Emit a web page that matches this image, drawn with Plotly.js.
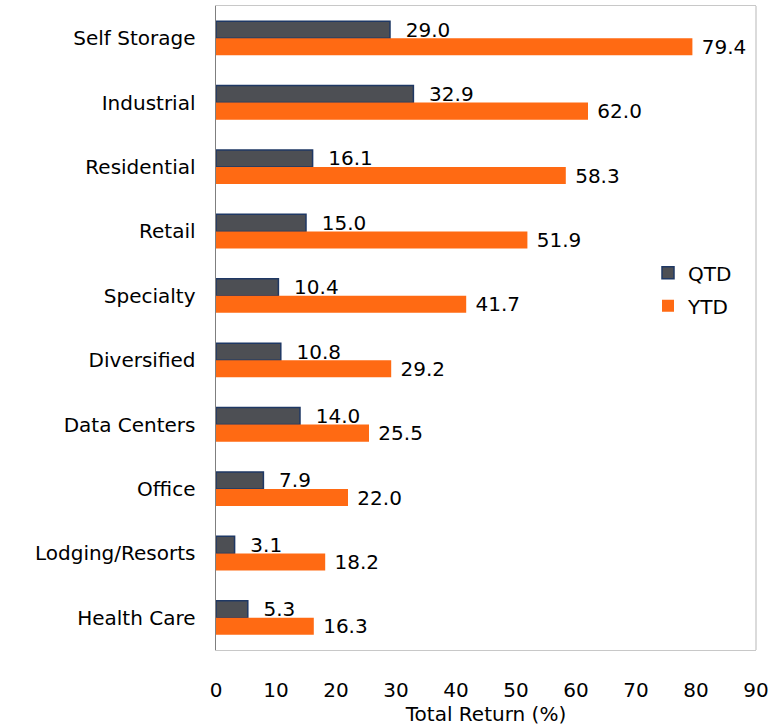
<!DOCTYPE html>
<html>
<head>
<meta charset="utf-8">
<script src="https://cdn.plot.ly/plotly-3.0.1.min.js"></script>
<style>html,body{margin:0;padding:0;background:#fff;}#chart{width:777px;height:727px;}</style>
</head>
<body>
<div id="chart"></div>
<script>
const categories = ["Self Storage","Industrial","Residential","Retail","Specialty","Diversified","Data Centers","Office","Lodging/Resorts","Health Care"];
const qtdValues = [29.0, 32.9, 16.1, 15.0, 10.4, 10.8, 14.0, 7.9, 3.1, 5.3];
const ytdValues = [79.4, 62.0, 58.3, 51.9, 41.7, 29.2, 25.5, 22.0, 18.2, 16.3];
const xTicks = [0,10,20,30,40,50,60,70,80,90];

const FONT = "DejaVu Sans, Verdana, sans-serif";
const FS = 20;

const traces = [
  {
    type: "bar", orientation: "h", name: "QTD", legendgroup: "a",
    y: categories, x: qtdValues,
    marker: {color: "#4d4f54", line: {color: "#1f3864", width: 1.5}},
    text: qtdValues.map(v => "  " + v.toFixed(1)),
    textposition: "outside", cliponaxis: false, constraintext: "none",
    textfont: {family: FONT, size: FS, color: "#000"},
    hoverinfo: "x+y"
  },
  {
    type: "bar", orientation: "h", name: "YTD", legendgroup: "b",
    y: categories, x: ytdValues,
    marker: {color: "#ff6a13", line: {width: 0}},
    text: ytdValues.map(v => " " + v.toFixed(1)),
    textposition: "outside", cliponaxis: false, constraintext: "none",
    textfont: {family: FONT, size: FS, color: "#000"},
    hoverinfo: "x+y"
  }
];

const layout = {
  width: 777, height: 727,
  margin: {l: 216, r: 21, t: 6, b: 77},
  paper_bgcolor: "#fff", plot_bgcolor: "#fff",
  font: {family: FONT, size: FS, color: "#000"},
  barmode: "group",
  bargap: 0.47, bargroupgap: 0,
  showlegend: true,
  legend: {
    x: 0.80, y: 0.616, xanchor: "left", yanchor: "top",
    bgcolor: "rgba(0,0,0,0)",
    font: {family: FONT, size: FS, color: "#000"},
    tracegroupgap: 4, traceorder: "grouped"
  },
  xaxis: {
    range: [0, 90], tickvals: xTicks, ticktext: xTicks.map(String),
    showgrid: false, zeroline: false,
    showline: true, mirror: true, linecolor: "#c8c8c8", linewidth: 1.3,
    ticks: "", ticklabelstandoff: 22,
    tickfont: {family: FONT, size: FS, color: "#000"},
    title: {text: "Total Return (%)", font: {family: FONT, size: FS, color: "#000"}, standoff: 2},
    fixedrange: true
  },
  yaxis: {
    type: "category", autorange: "reversed",
    showgrid: false, zeroline: false,
    showline: true, linecolor: "#7f7f7f", linewidth: 1.5,
    ticks: "", ticklabelstandoff: 15,
    tickfont: {family: FONT, size: FS, color: "#000"},
    fixedrange: true
  },
  shapes: [
    {type: "line", xref: "paper", yref: "paper", x0: 1, x1: 1, y0: 0, y1: 1,
     line: {color: "#c8c8c8", width: 1.3}}
  ]
};

Plotly.newPlot("chart", traces, layout, {displayModeBar: false, staticPlot: true});
</script>
</body>
</html>
